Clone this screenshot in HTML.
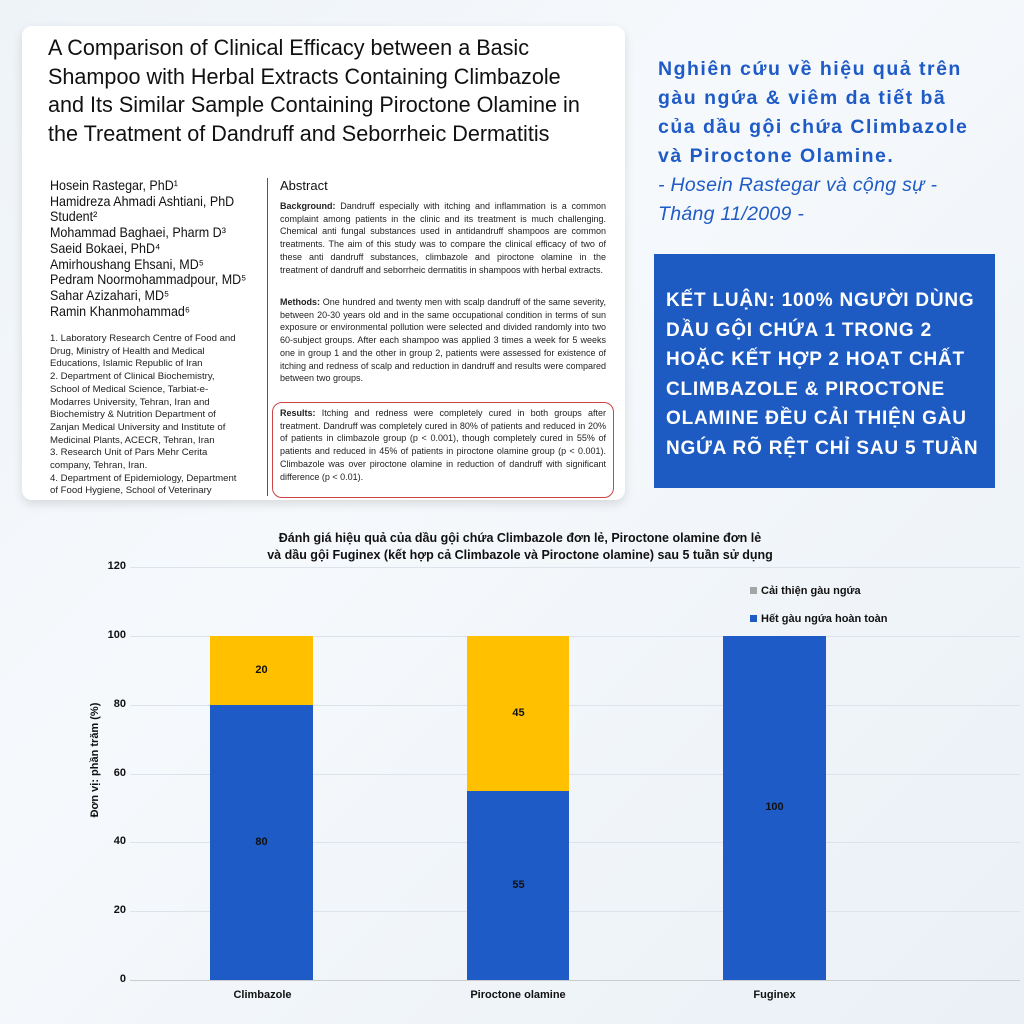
<!DOCTYPE html>
<html><head><meta charset="utf-8"><style>
*{margin:0;padding:0;box-sizing:border-box}
body{width:1024px;height:1024px;position:relative;overflow:hidden;background:linear-gradient(135deg,#eef3f8 0%,#f6f9fc 40%,#eaf0f6 100%);font-family:"Liberation Sans","Noto Sans CJK SC",sans-serif}
.a{position:absolute;white-space:nowrap}
.card{position:absolute;left:22px;top:26px;width:603px;height:474px;background:#fff;border-radius:10px;box-shadow:0 4px 10px rgba(0,0,0,.12)}
.t{font-size:22.5px;color:#111;line-height:28.7px;left:26px;top:8px;transform:scaleX(.96);transform-origin:left}
.au{font-size:13.6px;line-height:15.7px;color:#111;left:28px;top:152px;transform:scaleX(.92);transform-origin:left}
.af{font-size:9.6px;line-height:12.7px;color:#222;left:28px;top:307px}
.ab{font-size:9px;line-height:12.7px;color:#222;left:258px;width:326px;white-space:normal;text-align:justify}
.bl{color:#1e5bc6;font-weight:bold;font-size:19.5px;line-height:29px;left:658px;top:55px;letter-spacing:1.5px}
.it{color:#1e5bc6;font-style:italic;font-size:19.5px;line-height:29px;left:658px;top:171px;letter-spacing:.3px}
.box{position:absolute;left:654px;top:254px;width:341px;height:234px;background:#1d5bc3}
.bx{color:#fff;font-weight:bold;font-size:19px;line-height:29.5px;left:12px;top:32px;letter-spacing:.8px}
.g{position:absolute;left:130px;width:890px;height:1px;background:#dde3ea}
.yl{position:absolute;left:90px;width:36px;text-align:right;font-size:11px;font-weight:bold;color:#111}
.bar{position:absolute}
.v{position:absolute;font-size:11px;font-weight:bold;color:#111;text-align:center;width:103px}
</style></head><body>
<div class="card">
<div class="a t">A Comparison of Clinical Efficacy between a Basic<br>Shampoo with Herbal Extracts Containing Climbazole<br>and Its Similar Sample Containing Piroctone Olamine in<br>the Treatment of Dandruff and Seborrheic Dermatitis</div>
<div class="a au">Hosein Rastegar, PhD¹<br>Hamidreza Ahmadi Ashtiani, PhD<br>Student²<br>Mohammad Baghaei, Pharm D³<br>Saeid Bokaei, PhD⁴<br>Amirhoushang Ehsani, MD⁵<br>Pedram Noormohammadpour, MD⁵<br>Sahar Azizahari, MD⁵<br>Ramin Khanmohammad⁶</div>
<div class="a af">1. Laboratory Research Centre of Food and<br>Drug, Ministry of Health and Medical<br>Educations, Islamic Republic of Iran<br>2. Department of Clinical Biochemistry,<br>School of Medical Science, Tarbiat-e-<br>Modarres University, Tehran, Iran and<br>Biochemistry &amp; Nutrition Department of<br>Zanjan Medical University and Institute of<br>Medicinal Plants, ACECR, Tehran, Iran<br>3. Research Unit of Pars Mehr Cerita<br>company, Tehran, Iran.<br>4. Department of Epidemiology, Department<br>of Food Hygiene, School of Veterinary</div>
<div style="position:absolute;left:245px;top:152px;width:1px;height:318px;background:#555"></div>
<div class="a" style="left:258px;top:152px;font-size:13px;color:#111">Abstract</div>
<div class="a ab" style="top:174px"><b>Background:</b> Dandruff especially with itching and inflammation is a common complaint among patients in the clinic and its treatment is much challenging. Chemical anti fungal substances used in antidandruff shampoos are common treatments. The aim of this study was to compare the clinical efficacy of two of these anti dandruff substances, climbazole and piroctone olamine in the treatment of dandruff and seborrheic dermatitis in shampoos with herbal extracts.</div>
<div class="a ab" style="top:270px"><b>Methods:</b> One hundred and twenty men with scalp dandruff of the same severity, between 20-30 years old and in the same occupational condition in terms of sun exposure or environmental pollution were selected and divided randomly into two 60-subject groups. After each shampoo was applied 3 times a week for 5 weeks one in group 1 and the other in group 2, patients were assessed for existence of itching and redness of scalp and reduction in dandruff and results were compared between two groups.</div>
<div style="position:absolute;left:250px;top:376px;width:342px;height:96px;border:1px solid #c44;border-radius:10px"></div>
<div class="a ab" style="top:381px"><b>Results:</b> Itching and redness were completely cured in both groups after treatment. Dandruff was completely cured in 80% of patients and reduced in 20% of patients in climbazole group (p &lt; 0.001), though completely cured in 55% of patients and reduced in 45% of patients in piroctone olamine group (p &lt; 0.001). Climbazole was over piroctone olamine in reduction of dandruff with significant difference (p &lt; 0.01).</div>
</div>
<div class="a bl">Nghiên cứu về hiệu quả trên<br>gàu ngứa &amp; viêm da tiết bã<br>của dầu gội chứa Climbazole<br>và Piroctone Olamine.</div>
<div class="a it">- Hosein Rastegar và cộng sự -<br>Tháng 11/2009 -</div>
<div class="box"><div class="a bx">KẾT LUẬN: 100% NGƯỜI DÙNG<br>DẦU GỘI CHỨA 1 TRONG 2<br>HOẶC KẾT HỢP 2 HOẠT CHẤT<br>CLIMBAZOLE &amp; PIROCTONE<br>OLAMINE ĐỀU CẢI THIỆN GÀU<br>NGỨA RÕ RỆT CHỈ SAU 5 TUẦN</div></div>

<div class="a" style="left:0;width:1040px;text-align:center;top:530px;font-size:12.5px;font-weight:bold;line-height:17px;color:#111">Đánh giá hiệu quả của dầu gội chứa Climbazole đơn lẻ, Piroctone olamine đơn lẻ<br>và dầu gội Fuginex (kết hợp cả Climbazole và Piroctone olamine) sau 5 tuần sử dụng</div>
<div class="g" style="top:567px"></div><div class="g" style="top:636px"></div><div class="g" style="top:705px"></div><div class="g" style="top:774px"></div><div class="g" style="top:842px"></div><div class="g" style="top:911px"></div><div class="g" style="top:980px;background:#ccc"></div>
<div class="yl" style="top:560px">120</div><div class="yl" style="top:629px">100</div><div class="yl" style="top:698px">80</div><div class="yl" style="top:767px">60</div><div class="yl" style="top:835px">40</div><div class="yl" style="top:904px">20</div><div class="yl" style="top:973px">0</div>
<div class="a" style="left:95px;top:760px;transform:translate(-50%,-50%) rotate(-90deg);font-size:11px;font-weight:bold;color:#111">Đơn vị: phần trăm (%)</div>
<div class="bar" style="left:210px;top:636px;width:103px;height:69px;background:#ffc000"></div>
<div class="bar" style="left:210px;top:705px;width:103px;height:275px;background:#1e5bc6"></div>
<div class="bar" style="left:467px;top:636px;width:102px;height:155px;background:#ffc000"></div>
<div class="bar" style="left:467px;top:791px;width:102px;height:189px;background:#1e5bc6"></div>
<div class="bar" style="left:723px;top:636px;width:103px;height:344px;background:#1e5bc6"></div>
<div class="v" style="left:210px;top:664px">20</div><div class="v" style="left:210px;top:836px">80</div>
<div class="v" style="left:467px;top:707px">45</div><div class="v" style="left:467px;top:879px">55</div>
<div class="v" style="left:723px;top:801px">100</div>
<div class="a" style="left:750px;top:585px;font-size:11px;font-weight:bold;color:#111"><span style="display:inline-block;width:7px;height:7px;background:#a5a5a5;margin-right:4px"></span>Cải thiện gàu ngứa</div>
<div class="a" style="left:750px;top:613px;font-size:11px;font-weight:bold;color:#111"><span style="display:inline-block;width:7px;height:7px;background:#1e5bc6;margin-right:4px"></span>Hết gàu ngứa hoàn toàn</div>
<div class="a" style="left:211px;width:103px;text-align:center;top:989px;font-size:11px;font-weight:bold;color:#111">Climbazole</div>
<div class="a" style="left:448px;width:140px;text-align:center;top:989px;font-size:11px;font-weight:bold;color:#111">Piroctone olamine</div>
<div class="a" style="left:723px;width:103px;text-align:center;top:989px;font-size:11px;font-weight:bold;color:#111">Fuginex</div>
</body></html>
